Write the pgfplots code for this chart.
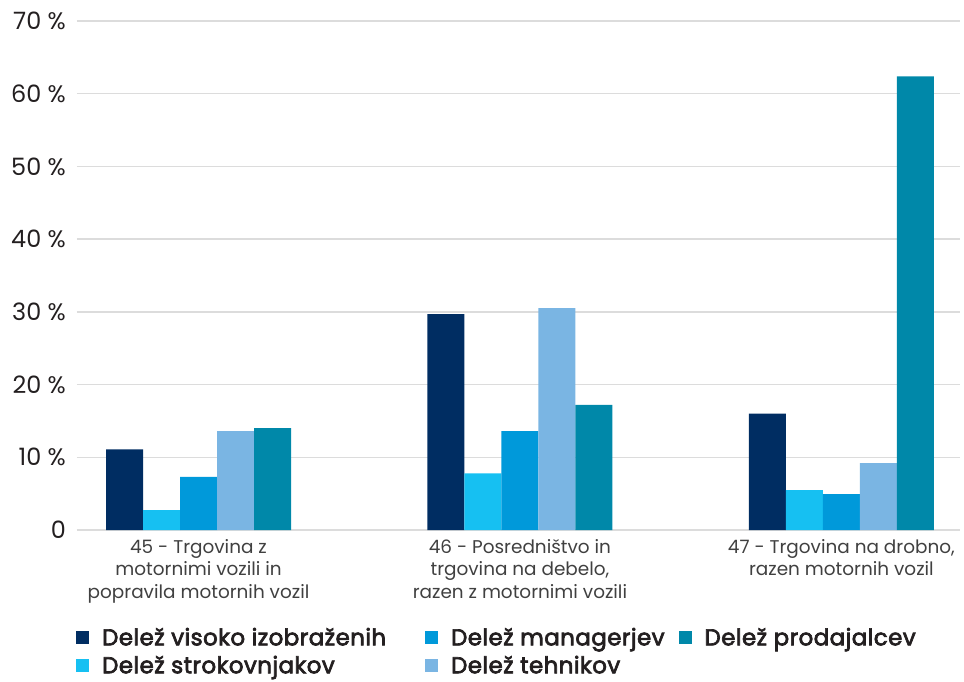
\documentclass[border=0pt]{standalone}
\usepackage{fontspec}
\setmainfont{Poppins}
\newfontfamily\legfont[FakeBold=3, LetterSpace=2]{Poppins}
\usepackage{pgfplots}
\pgfplotsset{compat=1.18}
\definecolor{navy}{HTML}{002D62}
\definecolor{cyanb}{HTML}{16C0F2}
\definecolor{blueb}{HTML}{0099DA}
\definecolor{lightb}{HTML}{7AB5E3}
\definecolor{tealb}{HTML}{0088A9}
\definecolor{gridgray}{HTML}{DCDCDC}
\definecolor{ticktext}{HTML}{231F20}
\definecolor{labgray}{HTML}{404040}
\pgfplotsset{sq/.style={draw=none, fill=#1,
  legend image code/.code={\fill[#1] (0bp,-6.5bp) rectangle (13bp,6.5bp); \path (24bp,0bp);}}}
\begin{document}
\begin{tikzpicture}
\path[use as bounding box] (-77bp,-152bp) rectangle (887bp,530bp);
\begin{axis}[
  at={(0,0)}, anchor=south west,
  scale only axis, width=883bp, height=509bp,
  ybar=0pt, bar width=37bp,
  xmin=-0.378, xmax=2.369, ymin=0, ymax=70,
  ytick={0,10,...,70},
  yticklabels={0,10 \%,20 \%,30 \%,40 \%,50 \%,60 \%,70 \%},
  xtick={0,1,2},
  xticklabels={{45 - Trgovina z\\motornimi vozili in\\popravila motornih vozil},
               {46 - Posredništvo in\\trgovina na debelo,\\razen z motornimi vozili},
               {47 - Trgovina na drobno,\\razen motornih vozil}},
  ymajorgrids, grid style={line width=1.5bp, gridgray},
  axis line style={draw=none}, major tick length=0pt,
  yticklabel style={font=\fontsize{24}{26}\selectfont, text=ticktext, inner xsep=0pt, xshift=-11bp},
  xticklabel style={font=\fontsize{18.5}{22.5}\selectfont, text=labgray, align=center, yshift=-6bp},
  legend columns=2, transpose legend,
  legend cell align=left,
  legend style={draw=none, fill=none, at={(0,-0.19)}, anchor=north west,
    xshift=-1bp, yshift=1bp,
    inner xsep=0pt, inner ysep=0pt, row sep=5bp,
    font=\fontsize{23}{24}\selectfont\legfont, text=ticktext,
    /tikz/column 2/.style={column sep=37bp},
    /tikz/column 4/.style={column sep=12bp}},
]
\addplot[sq=navy] coordinates {(0,11.1) (1,29.7) (2,16.0)};
\addplot[sq=cyanb] coordinates {(0,2.75) (1,7.8) (2,5.5)};
\addplot[sq=blueb] coordinates {(0,7.3) (1,13.6) (2,4.95)};
\addplot[sq=lightb] coordinates {(0,13.6) (1,30.5) (2,9.2)};
\addplot[sq=tealb] coordinates {(0,14.0) (1,17.2) (2,62.4)};
\legend{Delež visoko izobraženih, Delež strokovnjakov, Delež managerjev, Delež tehnikov, Delež prodajalcev}
\end{axis}
\end{tikzpicture}
\end{document}
